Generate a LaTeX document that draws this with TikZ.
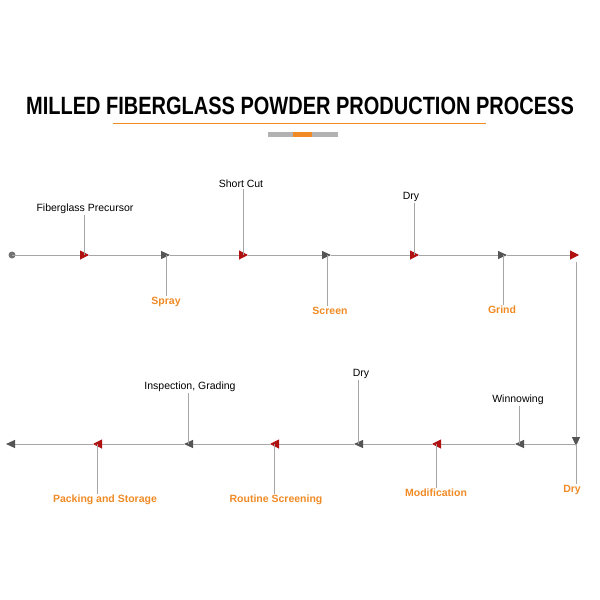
\documentclass[tikz,border=0pt]{standalone}
\usepackage{fontspec}
\setmainfont{Liberation Sans}
\usetikzlibrary{arrows.meta}
\definecolor{tipred}{HTML}{B01010}
\definecolor{tipgray}{HTML}{555555}
\definecolor{lbl}{HTML}{F08A24}
\tikzset{
  flow/.style={draw=gray!70, line width=1pt},
  red tip/.style={flow, -{Triangle[length=9pt,width=9pt,color=tipred]}},
  gray tip/.style={flow, -{Triangle[length=9pt,width=8pt,color=tipgray]}},
  stem/.style={draw=gray!70, line width=0.9pt},
  stage/.style={font=\fontsize{10.5}{12}\selectfont, inner sep=1pt},
  hot/.style={stage, text=lbl, font=\fontsize{10.5}{12}\selectfont\bfseries}
}
\begin{document}
\begin{tikzpicture}[x=1pt,y=-1pt]
  \useasboundingbox (0,0) rectangle (600,600);
  % title
  \node (title) at (300,106) {\fontsize{25}{25}\selectfont\bfseries\addfontfeature{FakeStretch=0.8}MILLED FIBERGLASS POWDER PRODUCTION PROCESS};
  \draw[lbl, line width=0.8pt] (113,123) -- (486,123);
  \fill[gray!60] (268,132) rectangle (338,137);
  \fill[lbl] (293,132) rectangle (312,137);

  % top line
  \coordinate (p0) at (12,255);
  \coordinate (p1) at (89,255);
  \coordinate (p2) at (170,255);
  \coordinate (p3) at (248,255);
  \coordinate (p4) at (331,255);
  \coordinate (p5) at (419,255);
  \coordinate (p6) at (507,255);
  \coordinate (p7) at (579,255);
  \fill[gray!90!black] (p0) circle (3.5);
  \draw[red tip] (p0) -- (p1);
  \draw[gray tip] (p1) -- (p2);
  \draw[red tip] (p2) -- (p3);
  \draw[gray tip] (p3) -- (p4);
  \draw[red tip] (p4) -- (p5);
  \draw[gray tip] (p5) -- (p6);
  \draw[red tip] (p6) -- (p7);

  % down to bottom line
  \coordinate (q0) at (576,262);
  \coordinate (q1) at (576,446);
  \draw[gray tip] (q0) -- (q1);

  % bottom line
  \coordinate (r0) at (576,444);
  \coordinate (r1) at (515,444);
  \coordinate (r2) at (432,444);
  \coordinate (r3) at (354,444);
  \coordinate (r4) at (270,444);
  \coordinate (r5) at (184,444);
  \coordinate (r6) at (93,444);
  \coordinate (r7) at (6,444);
  \draw[gray tip] (r0) -- (r1);
  \draw[red tip] (r1) -- (r2);
  \draw[gray tip] (r2) -- (r3);
  \draw[red tip] (r3) -- (r4);
  \draw[gray tip] (r4) -- (r5);
  \draw[red tip] (r5) -- (r6);
  \draw[gray tip] (r6) -- (r7);

  % labels above
  \node[stage] (precursor) at (85,209) {Fiberglass Precursor};
  \node[stage] (shortcut) at (241,184) {Short Cut};
  \node[stage] (dry1) at (411,197) {Dry};
  \node[stage] (grading) at (190,387) {Inspection, Grading};
  \node[stage] (dry3) at (361,374) {Dry};
  \node[stage] (winnow) at (518,400) {Winnowing};
  \draw[stem] (precursor.south -| 84,0) -- (84,255);
  \draw[stem] (shortcut.south -| 243,0) -- (243,255);
  \draw[stem] (dry1.south -| 414,0) -- (414,255);
  \draw[stem] (grading.south -| 188,0) -- (188,444);
  \draw[stem] (dry3.south -| 358,0) -- (358,444);
  \draw[stem] (winnow.south -| 519,0) -- (519,444);

  % labels below
  \node[hot] (spray) at (166,302) {Spray};
  \node[hot] (screen) at (330,311) {Screen};
  \node[hot] (grind) at (502,310) {Grind};
  \node[hot] (packing) at (105,500) {Packing and Storage};
  \node[hot] (routine) at (276,500) {Routine Screening};
  \node[hot] (modif) at (436,493) {Modification};
  \node[hot] (dry2) at (572,490) {Dry};
  \draw[stem] (166,255) -- (spray.north -| 166,0);
  \draw[stem] (327,255) -- (screen.north -| 327,0);
  \draw[stem] (503,255) -- (grind.north -| 503,0);
  \draw[stem] (97,444) -- (packing.north -| 97,0);
  \draw[stem] (274,444) -- (routine.north -| 274,0);
  \draw[stem] (436,444) -- (modif.north -| 436,0);
  \draw[stem] (576,444) -- (dry2.north -| 576,0);
\end{tikzpicture}
\end{document}
